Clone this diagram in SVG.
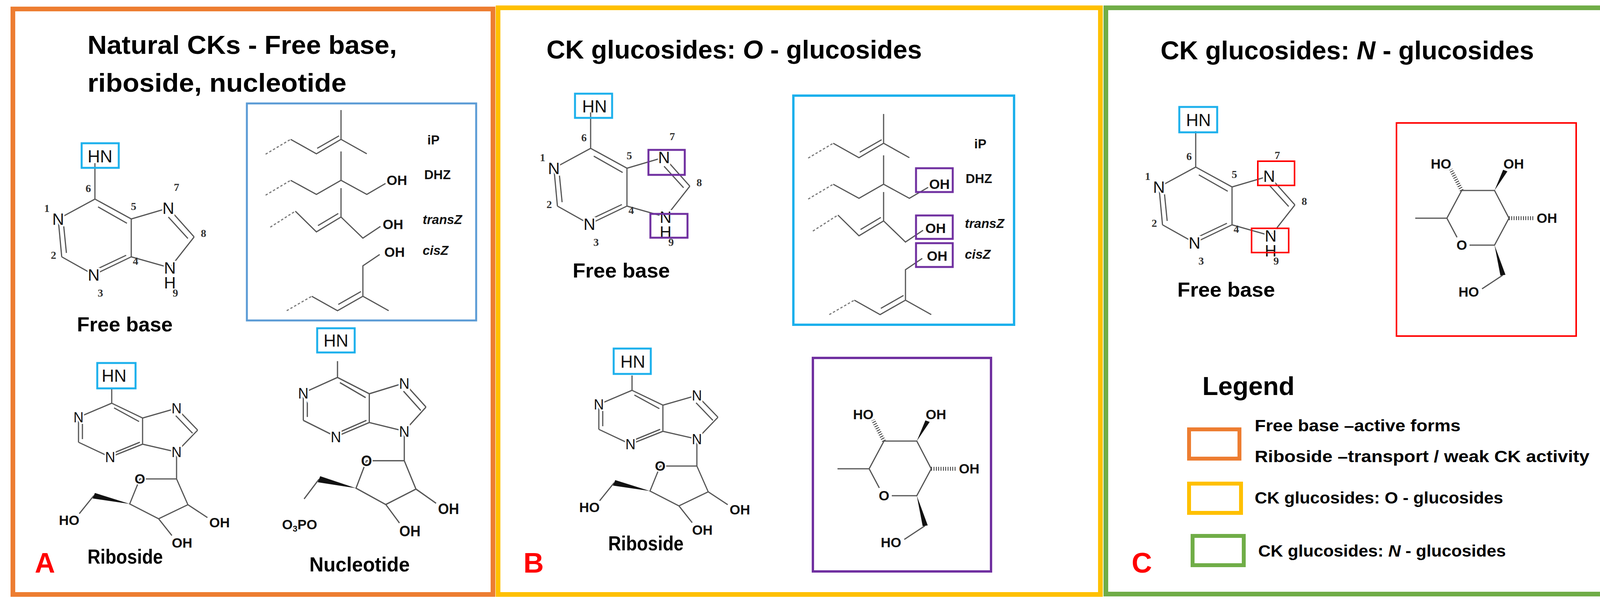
<svg xmlns="http://www.w3.org/2000/svg" xmlns:xlink="http://www.w3.org/1999/xlink" width="4255" height="1550" viewBox="0 0 4255 1550">
<style>
.b{stroke:#555;stroke-width:3;fill:none}
.d{stroke:#777;stroke-width:3;fill:none;stroke-dasharray:6 5}
.w{fill:#111;stroke:none}
.h{stroke:#333;stroke-width:10;stroke-dasharray:2 4;fill:none}
.at{font-family:"Liberation Sans",Arial,sans-serif;font-size:42px;fill:#111;text-anchor:middle;paint-order:stroke;stroke:#fff;stroke-width:8px}
.sa{font-family:"Liberation Sans",Arial,sans-serif;font-size:35px;font-weight:bold;fill:#111;text-anchor:middle;paint-order:stroke;stroke:#fff;stroke-width:6px}
.num{font-family:"Liberation Serif",serif;font-size:28px;font-weight:bold;fill:#333;text-anchor:middle}
.hn{font-family:"Liberation Sans",Arial,sans-serif;font-size:44px;fill:#111;text-anchor:middle}
.ttl{font-family:"Liberation Sans",Arial,sans-serif;font-size:66px;font-weight:bold;fill:#000}
.lbl{font-family:"Liberation Sans",Arial,sans-serif;font-size:52px;font-weight:bold;fill:#000}
.lg{font-family:"Liberation Sans",Arial,sans-serif;font-size:42px;font-weight:bold;fill:#000}
.sl{font-family:"Liberation Sans",Arial,sans-serif;font-size:33px;font-weight:bold;fill:#111}
.let{font-family:"Liberation Sans",Arial,sans-serif;font-size:72px;font-weight:bold;fill:#FF0000}
.cy{fill:none;stroke:#1CB0EC;stroke-width:5}
.pu{fill:none;stroke:#7030A0;stroke-width:5}
.rd{fill:none;stroke:#FF0000;stroke-width:4}
</style>
<defs>
<g id="fb">
<path class="b" d="M0,-92V0L-94,51M-94,51L-85,148M-80,68L-73,138M-85,148L-3,194L93,148M8,178L80,144M93,148V51L0,0M82,62L8,20M93,51L188,23L254,97M188,46L238,101M254,97L192,176L93,148"/>
<text class="at" x="-94" y="66">N</text>
<text class="at" x="-3" y="209">N</text>
<text class="at" x="188" y="38">N</text>
<text class="at" x="192" y="191">N</text>
<text class="at" x="192" y="229">H</text>
<text class="num" x="-17" y="-18">6</text>
<text class="num" x="-123" y="33">1</text>
<text class="num" x="99" y="28">5</text>
<text class="num" x="209" y="-21">7</text>
<text class="num" x="278" y="97">8</text>
<text class="num" x="-106" y="153">2</text>
<text class="num" x="104" y="168">4</text>
<text class="num" x="14" y="250">3</text>
<text class="num" x="206" y="250">9</text>
</g>
<g id="rb">
<path class="b" d="M0,-38V0L-85,36V100M-75,46V92M-85,100L-4,138L79,105M6,127L72,100M79,105V38L0,0M70,47L6,12M79,38L166,13L220,69M164,32L207,77M220,69L166,125L79,105M166,125V194H72L46,258L120,296L195,260L166,194M-46,237L-83,283M195,260L245,293M120,296L154,339"/>
<polygon class="w" points="46,258 -43,230 -49,244"/>
<text class="at" style="font-size:36px" x="-85" y="49">N</text>
<text class="at" style="font-size:36px" x="-4" y="151">N</text>
<text class="at" style="font-size:36px" x="166" y="26">N</text>
<text class="at" style="font-size:36px" x="166" y="138">N</text>
<text class="sa" x="72" y="206">O</text>
<text class="sa" x="276" y="318">OH</text>
<text class="sa" x="180" y="370">OH</text>
</g>
<g id="sc">
<path class="d" d="M680,395L744,357M680,500L744,462M692,582L756,541M734,796L798,759"/>
<path class="b" d="M744,357L810,394L873,357M812,380L868,348M873,357V282M873,357L939,394"/>
<path class="b" d="M744,462L810,498L873,462L939,498L987,470M873,462V388"/>
<path class="b" d="M756,541L810,594L873,556M814,578L866,547M873,556V482M873,556L929,610L974,580"/>
<path class="b" d="M798,759L864,796L929,759M866,780L924,747M929,759V681L972,652M929,759L995,796"/>
<text class="sa" x="1016" y="474">OH</text>
<text class="sa" x="1006" y="587">OH</text>
<text class="sa" x="1010" y="658">OH</text>
</g>
<g id="gl">
<path class="h" d="M0,0L-28,-54M121,71L186,71"/>
<path class="b" d="M0,0H84L121,71L84,140H20M-12,120L-38,71L0,0M-38,71H-119M105,217L52,252"/>
<polygon class="w" points="84,0 106,-53 117,-49"/>
<polygon class="w" points="84,140 99,218 112,216"/>
<text class="sa" x="-53" y="-56">HO</text>
<text class="sa" x="133" y="-56">OH</text>
<text class="sa" x="218" y="83">OH</text>
<text class="sa" x="0" y="152">O</text>
<text class="sa" x="18" y="272">HO</text>
</g>
</defs>

<g id="panelA">
<rect x="33" y="23" width="1229" height="1500" fill="none" stroke="#ED7D31" stroke-width="12"/>
<text class="ttl" x="224" y="138" textLength="792" lengthAdjust="spacingAndGlyphs">Natural CKs - Free base,</text>
<text class="ttl" x="224" y="235" textLength="663" lengthAdjust="spacingAndGlyphs">riboside, nucleotide</text>
</g>
<g id="A-freebase">
<use xlink:href="#fb" transform="translate(243,510)"/>
<rect class="cy" x="209" y="367" width="95" height="63"/>
<text class="hn" x="256" y="416">HN</text>
<text class="lbl" x="197" y="849" textLength="245" lengthAdjust="spacingAndGlyphs">Free base</text>
</g>
<g id="A-sidechains">
<rect x="632" y="265" width="587" height="556" fill="none" stroke="#5B9BD5" stroke-width="5"/>
<use xlink:href="#sc"/>
<text class="sl" x="1094" y="370">iP</text>
<text class="sl" x="1086" y="459">DHZ</text>
<text class="sl" x="1082" y="574" font-style="italic">transZ</text>
<text class="sl" x="1082" y="653" font-style="italic">cisZ</text>
</g>
<g id="A-riboside">
<use xlink:href="#rb" transform="translate(286,1033)"/>
<rect class="cy" x="249" y="930" width="98" height="65"/>
<text class="hn" x="292" y="978">HN</text>
<text class="sa" x="177" y="1345">HO</text>
<text class="lbl" x="224" y="1444" textLength="193" lengthAdjust="spacingAndGlyphs">Riboside</text>
<text class="let" x="89" y="1467">A</text>
</g>
<g id="A-nucleotide">
<use xlink:href="#rb" transform="translate(864,967) scale(1.03,1.1)"/>
<rect class="cy" x="812" y="841" width="96" height="62"/>
<text class="hn" x="860" y="888">HN</text>
<text class="sa" x="767" y="1356">O<tspan font-size="22" dy="6">3</tspan><tspan dy="-6">PO</tspan></text>
<text class="lbl" x="792" y="1464" textLength="257" lengthAdjust="spacingAndGlyphs">Nucleotide</text>
</g>

<g id="panelB">
<rect x="1275" y="20" width="1542" height="1503" fill="none" stroke="#FFC000" stroke-width="12"/>
<text class="ttl" x="1399" y="150" textLength="961" lengthAdjust="spacingAndGlyphs">CK glucosides: <tspan font-style="italic">O</tspan> - glucosides</text>
<text class="let" x="1340" y="1467">B</text>
</g>
<g id="B-freebase">
<use xlink:href="#fb" transform="translate(1512,380)"/>
<rect class="cy" x="1472" y="240" width="95" height="62"/>
<text class="hn" x="1522" y="288">HN</text>
<rect class="pu" x="1660" y="384" width="93" height="64"/>
<rect class="pu" x="1665" y="548" width="95" height="61"/>
<text class="lbl" x="1466" y="711" textLength="249" lengthAdjust="spacingAndGlyphs">Free base</text>
</g>
<g id="B-sidechains">
<rect x="2031" y="245" width="565" height="587" fill="none" stroke="#1CB0EC" stroke-width="6"/>
<use xlink:href="#sc" transform="translate(1389,10)"/>
<rect class="pu" x="2345" y="431" width="94" height="61"/>
<rect class="pu" x="2345" y="552" width="94" height="60"/>
<rect class="pu" x="2345" y="623" width="94" height="61"/>
<text class="sl" x="2494" y="380">iP</text>
<text class="sl" x="2472" y="469">DHZ</text>
<text class="sl" x="2470" y="584" font-style="italic">transZ</text>
<text class="sl" x="2470" y="663" font-style="italic">cisZ</text>
</g>
<g id="B-riboside">
<use xlink:href="#rb" transform="translate(1618,1000)"/>
<rect class="cy" x="1571" y="893" width="95" height="65"/>
<text class="hn" x="1620" y="942">HN</text>
<text class="sa" x="1509" y="1312">HO</text>
<text class="lbl" x="1557" y="1410" textLength="193" lengthAdjust="spacingAndGlyphs">Riboside</text>
</g>
<g id="B-glucose">
<rect x="2081" y="917" width="456" height="547" fill="none" stroke="#7030A0" stroke-width="6"/>
<use xlink:href="#gl" transform="translate(2263,1130)"/>
</g>

<g id="panelC">
<rect x="2831" y="20" width="1393" height="1502" fill="none" stroke="#70AD47" stroke-width="12"/>
<text class="ttl" x="2971" y="152" textLength="956" lengthAdjust="spacingAndGlyphs">CK glucosides: <tspan font-style="italic">N</tspan> - glucosides</text>
<text class="let" x="2897" y="1467">C</text>
</g>
<g id="C-freebase">
<use xlink:href="#fb" transform="translate(3061,428)"/>
<rect class="cy" x="3019" y="274" width="97" height="65"/>
<text class="hn" x="3068" y="323">HN</text>
<rect class="rd" x="3220" y="413" width="94" height="62"/>
<rect class="rd" x="3204" y="585" width="95" height="62"/>
<text class="lbl" x="3014" y="760" textLength="250" lengthAdjust="spacingAndGlyphs">Free base</text>
</g>
<g id="C-glucose">
<rect class="rd" x="3575" y="315" width="460" height="546"/>
<use xlink:href="#gl" transform="translate(3742,488)"/>
</g>
<g id="legend">
<text class="ttl" x="3078" y="1012" font-size="72" textLength="236" lengthAdjust="spacingAndGlyphs">Legend</text>
<rect x="3044" y="1100" width="129" height="75" fill="none" stroke="#ED7D31" stroke-width="10"/>
<text class="lg" x="3212" y="1105" textLength="527" lengthAdjust="spacingAndGlyphs">Free base –active forms</text>
<text class="lg" x="3212" y="1184" textLength="857" lengthAdjust="spacingAndGlyphs">Riboside –transport  / weak CK activity</text>
<rect x="3044" y="1239" width="133" height="75" fill="none" stroke="#FFC000" stroke-width="10"/>
<text class="lg" x="3212" y="1290" textLength="636" lengthAdjust="spacingAndGlyphs">CK glucosides: O - glucosides</text>
<rect x="3053" y="1373" width="131" height="75" fill="none" stroke="#70AD47" stroke-width="10"/>
<text class="lg" x="3221" y="1426" textLength="634" lengthAdjust="spacingAndGlyphs">CK glucosides: <tspan font-style="italic">N</tspan> - glucosides</text>
</g>
<g id="connectors"/>
</svg>
